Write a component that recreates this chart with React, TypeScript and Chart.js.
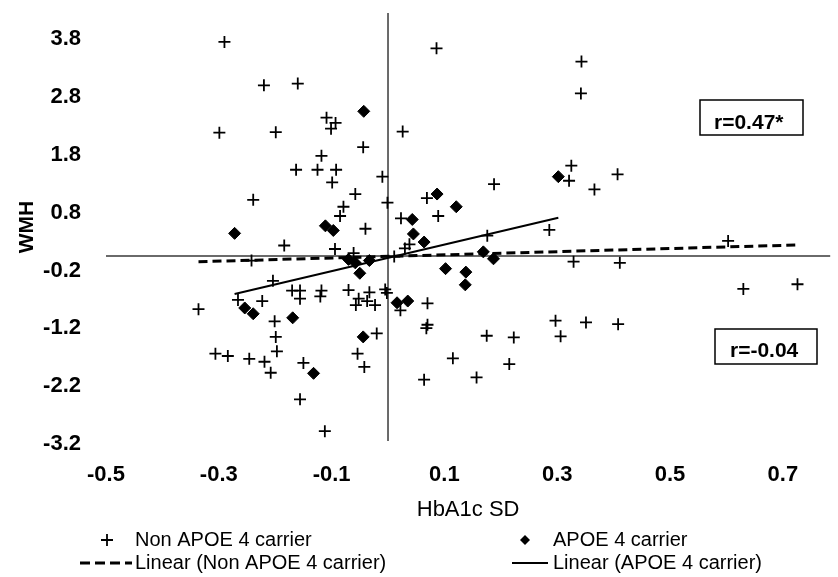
import React, { useEffect, useRef } from "react";
import { Chart, registerables } from "chart.js";

Chart.register(...registerables);

const FONT = "'Liberation Sans', Arial, sans-serif";

const xTicks = [-0.5, -0.3, -0.1, 0.1, 0.3, 0.5, 0.7];
const yTicks = [-3.2, -2.2, -1.2, -0.2, 0.8, 1.8, 2.8, 3.8];

const nonApoeX = [
  -0.29, -0.22, -0.16, -0.299, -0.199, -0.109, -0.093, -0.101, 0.026, -0.044,
  -0.118, -0.163, -0.125, -0.092, -0.099, -0.01, -0.239, -0.058, -0.001, -0.079,
  -0.085, 0.023, -0.04, -0.184, -0.094, 0.03, 0.038, -0.061, -0.242, 0.011,
  -0.204, -0.266, -0.223, -0.336, -0.17, -0.156, -0.156, -0.118, -0.12, -0.07,
  -0.052, -0.057, -0.033, -0.037, -0.023, -0.005, -0.002, 0.022, -0.201, -0.199,
  -0.197, -0.306, -0.284, -0.246, -0.219, -0.208, -0.15, -0.02, -0.054, -0.042,
  -0.156, -0.112, 0.086, 0.343, 0.342, 0.325, 0.321, 0.407, 0.366, 0.188,
  0.069, 0.089, 0.286, 0.176, 0.603, 0.329, 0.411, 0.63, 0.726, 0.07,
  0.07, 0.068, 0.175, 0.223, 0.297, 0.306, 0.351, 0.408, 0.115, 0.215,
  0.064, 0.157,
];
const nonApoeY = [
  3.7, 2.95, 2.98, 2.13, 2.14, 2.39, 2.3, 2.2, 2.15, 1.88,
  1.73, 1.49, 1.49, 1.49, 1.27, 1.37, 0.97, 1.07, 0.92, 0.85,
  0.69, 0.65, 0.47, 0.18, 0.12, 0.13, 0.2, 0.05, -0.08, -0.01,
  -0.43, -0.76, -0.78, -0.92, -0.6, -0.6, -0.74, -0.6, -0.7, -0.59,
  -0.74, -0.85, -0.63, -0.78, -0.85, -0.58, -0.64, -0.94, -1.13, -1.4,
  -1.65, -1.69, -1.73, -1.78, -1.83, -2.02, -1.85, -1.34, -1.69, -1.92,
  -2.48, -3.03, 3.59, 3.36, 2.81, 1.56, 1.3, 1.41, 1.15, 1.24,
  1.0, 0.69, 0.45, 0.35, 0.26, -0.1, -0.12, -0.57, -0.49, -0.82,
  -1.19, -1.25, -1.38, -1.41, -1.12, -1.39, -1.15, -1.18, -1.77, -1.87,
  -2.14, -2.1,
];

const apoeX = [
  -0.043, -0.272, -0.111, -0.097, 0.043, 0.045, -0.07, -0.058, -0.033, -0.05,
  -0.254, -0.239, -0.169, -0.044, -0.132, 0.016, 0.035, 0.302, 0.087, 0.121,
  0.064, 0.169, 0.187, 0.102, 0.138, 0.137,
];
const apoeY = [
  2.5, 0.39, 0.52, 0.44, 0.63, 0.38, -0.06, -0.12, -0.08, -0.3,
  -0.9, -1.0, -1.07, -1.4, -2.03, -0.81, -0.78, 1.37, 1.07, 0.85,
  0.24, 0.07, -0.05, -0.22, -0.28, -0.5,
];

const nonApoeTrendX = [-0.336, 0.726];
const nonApoeTrendY = [-0.1, 0.19];
const apoeTrendX = [-0.272, 0.302];
const apoeTrendY = [-0.66, 0.66];

const seriesLabels = [
  "Non APOE 4 carrier",
  "APOE 4 carrier",
  "Linear (Non APOE 4 carrier)",
  "Linear (APOE 4 carrier)",
];
const rLabels = ["r=0.47*", "r=-0.04"];
const xTitle = "HbA1c SD";
const yTitle = "WMH";

const toPoints = (xs: number[], ys: number[]) => xs.map((x, i) => ({ x, y: ys[i] }));

const axesAtZero = {
  id: "axesAtZero",
  beforeDatasetsDraw(chart: any) {
    const { ctx, chartArea, scales } = chart;
    const x0 = scales.x.getPixelForValue(0);
    const y0 = scales.y.getPixelForValue(0);
    ctx.save();
    ctx.strokeStyle = "#3a3a3a";
    ctx.lineWidth = 1.5;
    ctx.beginPath();
    ctx.moveTo(chartArea.left, y0);
    ctx.lineTo(chartArea.right, y0);
    ctx.moveTo(x0, chartArea.top);
    ctx.lineTo(x0, chartArea.bottom);
    ctx.stroke();
    ctx.restore();
  },
};

const extras = {
  id: "extras",
  afterDraw(chart: any) {
    const { ctx } = chart;
    const ds = chart.data.datasets;
    ctx.save();
    ctx.fillStyle = "#000";
    ctx.strokeStyle = "#000";
    // r boxes
    ctx.lineWidth = 1.5;
    ctx.strokeRect(700, 100, 103, 35);
    ctx.strokeRect(715, 329, 102, 35);
    ctx.font = `bold 21px ${FONT}`;
    ctx.textAlign = "left";
    ctx.textBaseline = "alphabetic";
    ctx.fillText(rLabels[0], 714, 129);
    ctx.fillText(rLabels[1], 730, 357);

    // legend
    ctx.font = `20px ${FONT}`;
    ctx.textBaseline = "middle";
    const r1 = 540;
    const r2 = 563;
    // cross
    ctx.lineWidth = 1.8;
    ctx.beginPath();
    ctx.moveTo(101, r1);
    ctx.lineTo(113, r1);
    ctx.moveTo(107, r1 - 6);
    ctx.lineTo(107, r1 + 6);
    ctx.stroke();
    ctx.fillText(ds[0].label, 135, r1);
    // diamond
    ctx.beginPath();
    ctx.moveTo(525, r1 - 5);
    ctx.lineTo(530, r1);
    ctx.lineTo(525, r1 + 5);
    ctx.lineTo(520, r1);
    ctx.closePath();
    ctx.fill();
    ctx.fillText(ds[1].label, 553, r1);
    // dashed
    ctx.lineWidth = 3;
    ctx.setLineDash([10, 5]);
    ctx.beginPath();
    ctx.moveTo(80, r2);
    ctx.lineTo(132, r2);
    ctx.stroke();
    ctx.setLineDash([]);
    ctx.fillText(ds[2].label, 135, r2);
    // solid
    ctx.lineWidth = 2;
    ctx.beginPath();
    ctx.moveTo(512, r2);
    ctx.lineTo(548, r2);
    ctx.stroke();
    ctx.fillText(ds[3].label, 553, r2);
    ctx.restore();
  },
};

export default function App() {
  const ref = useRef<HTMLCanvasElement | null>(null);

  useEffect(() => {
    document.body.style.margin = "0";
    const canvas = ref.current;
    if (!canvas) return;
    const chart = new Chart(canvas, {
      type: "scatter",
      data: {
        datasets: [
          {
            label: seriesLabels[0],
            data: toPoints(nonApoeX, nonApoeY),
            pointStyle: "cross",
            pointRadius: 6,
            pointBorderWidth: 1.8,
            borderColor: "#000",
            backgroundColor: "#000",
            order: 3,
          },
          {
            label: seriesLabels[1],
            data: toPoints(apoeX, apoeY),
            pointStyle: "rectRot",
            pointRadius: 6,
            pointBorderWidth: 1,
            borderColor: "#000",
            backgroundColor: "#000",
            order: 2,
          },
          {
            label: seriesLabels[2],
            data: toPoints(nonApoeTrendX, nonApoeTrendY),
            showLine: true,
            pointRadius: 0,
            borderColor: "#000",
            borderWidth: 3,
            borderDash: [9, 5],
            order: 1,
          },
          {
            label: seriesLabels[3],
            data: toPoints(apoeTrendX, apoeTrendY),
            showLine: true,
            pointRadius: 0,
            borderColor: "#000",
            borderWidth: 2,
            order: 0,
          },
        ],
      },
      options: {
        responsive: false,
        animation: false,
        events: [],
        layout: { padding: { left: 0, right: 0, top: 13, bottom: 54 } },
        plugins: {
          legend: { display: false },
          tooltip: { enabled: false },
        },
        scales: {
          x: {
            type: "linear",
            min: -0.5,
            max: 0.784,
            grid: { display: false, drawTicks: false },
            border: { display: false },
            afterBuildTicks: (scale: any) => {
              scale.ticks = xTicks.map((value) => ({ value }));
            },
            afterFit: (scale: any) => {
              scale.height = 82;
              scale.paddingLeft = 0;
              scale.paddingRight = 0;
            },
            ticks: {
              autoSkip: false,
              maxRotation: 0,
              padding: 21,
              color: "#000",
              font: { family: FONT, size: 22, weight: "bold" },
              callback: (v: any) => Number(v).toFixed(1),
            },
            title: {
              display: true,
              text: xTitle,
              color: "#000",
              font: { family: FONT, size: 22 },
              padding: { top: 0, bottom: 0 },
            },
          },
          y: {
            type: "linear",
            min: -3.2,
            max: 4.2,
            grid: { display: false, drawTicks: false },
            border: { display: false },
            afterBuildTicks: (scale: any) => {
              scale.ticks = yTicks.map((value) => ({ value }));
            },
            afterFit: (scale: any) => {
              scale.width = 106;
              scale.paddingTop = 0;
              scale.paddingBottom = 0;
            },
            ticks: {
              autoSkip: false,
              padding: 25,
              labelOffset: 3,
              color: "#000",
              font: { family: FONT, size: 22, weight: "bold" },
              callback: (v: any) => Number(v).toFixed(1),
            },
            title: {
              display: true,
              text: yTitle,
              color: "#000",
              font: { family: FONT, size: 21, weight: "bold" },
              padding: { top: 15, bottom: 0 },
            },
          },
        },
      },
      plugins: [axesAtZero, extras],
    });
    return () => chart.destroy();
  }, []);

  return (
    <div style={{ width: 838, height: 577, position: "relative", background: "#fff" }}>
      <canvas ref={ref} width={838} height={577} style={{ display: "block" }} />
    </div>
  );
}
